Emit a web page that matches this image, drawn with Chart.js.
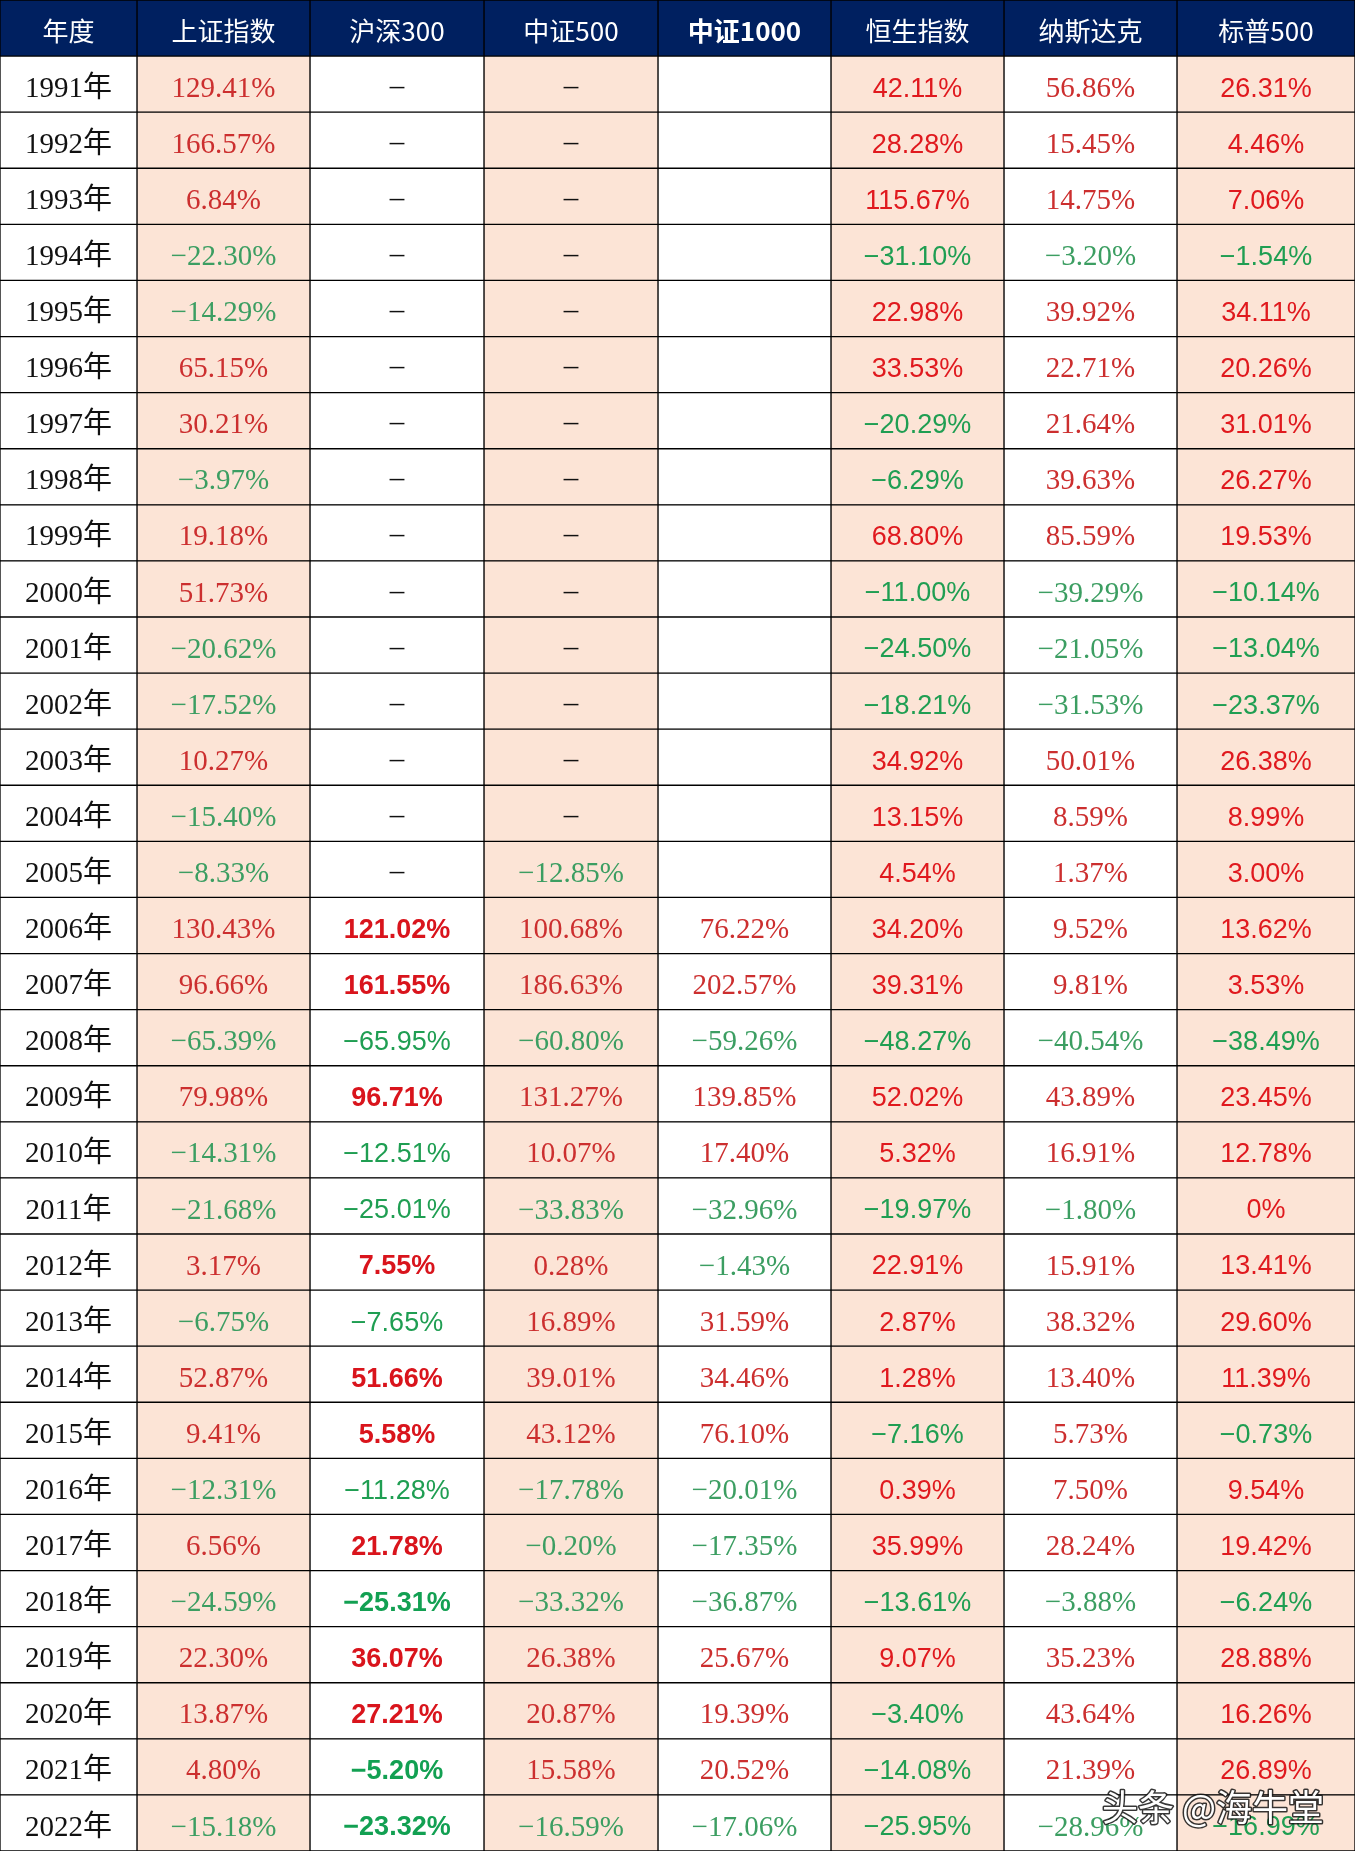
<!DOCTYPE html>
<html>
<head>
<meta charset="utf-8">
<title>历年指数涨跌幅</title>
<script src="https://cdn.jsdelivr.net/npm/chart.js@4.4.0/dist/chart.umd.min.js"></script>
<style>
  html, body { margin: 0; padding: 0; background: #fff; }
  #wrap { width: 1355px; height: 1851px; }
</style>
</head>
<body>
<div id="wrap"><canvas id="tableChart" width="1355" height="1851"></canvas></div>
<script>
// ---- data ----
const headers = ['年度', '上证指数', '沪深300', '中证500', '中证1000', '恒生指数', '纳斯达克', '标普500'];

const years = ['1991年', '1992年', '1993年', '1994年', '1995年', '1996年', '1997年', '1998年',
  '1999年', '2000年', '2001年', '2002年', '2003年', '2004年', '2005年', '2006年',
  '2007年', '2008年', '2009年', '2010年', '2011年', '2012年', '2013年', '2014年',
  '2015年', '2016年', '2017年', '2018年', '2019年', '2020年', '2021年', '2022年'];

const shIndex = [129.41, 166.57, 6.84, -22.30, -14.29, 65.15, 30.21, -3.97,
  19.18, 51.73, -20.62, -17.52, 10.27, -15.40, -8.33, 130.43,
  96.66, -65.39, 79.98, -14.31, -21.68, 3.17, -6.75, 52.87,
  9.41, -12.31, 6.56, -24.59, 22.30, 13.87, 4.80, -15.18];

const hs300 = [null, null, null, null, null, null, null, null,
  null, null, null, null, null, null, null, 121.02,
  161.55, -65.95, 96.71, -12.51, -25.01, 7.55, -7.65, 51.66,
  5.58, -11.28, 21.78, -25.31, 36.07, 27.21, -5.20, -23.32];

const csi500 = [null, null, null, null, null, null, null, null,
  null, null, null, null, null, null, -12.85, 100.68,
  186.63, -60.80, 131.27, 10.07, -33.83, 0.28, 16.89, 39.01,
  43.12, -17.78, -0.20, -33.32, 26.38, 20.87, 15.58, -16.59];

const csi1000 = [null, null, null, null, null, null, null, null,
  null, null, null, null, null, null, null, 76.22,
  202.57, -59.26, 139.85, 17.40, -32.96, -1.43, 31.59, 34.46,
  76.10, -20.01, -17.35, -36.87, 25.67, 19.39, 20.52, -17.06];

const hsi = [42.11, 28.28, 115.67, -31.10, 22.98, 33.53, -20.29, -6.29,
  68.80, -11.00, -24.50, -18.21, 34.92, 13.15, 4.54, 34.20,
  39.31, -48.27, 52.02, 5.32, -19.97, 22.91, 2.87, 1.28,
  -7.16, 0.39, 35.99, -13.61, 9.07, -3.40, -14.08, -25.95];

const nasdaq = [56.86, 15.45, 14.75, -3.20, 39.92, 22.71, 21.64, 39.63,
  85.59, -39.29, -21.05, -31.53, 50.01, 8.59, 1.37, 9.52,
  9.81, -40.54, 43.89, 16.91, -1.80, 15.91, 38.32, 13.40,
  5.73, 7.50, 28.24, -3.88, 35.23, 43.64, 21.39, -28.96];

const sp500 = [26.31, 4.46, 7.06, -1.54, 34.11, 20.26, 31.01, 26.27,
  19.53, -10.14, -13.04, -23.37, 26.38, 8.99, 3.00, 13.62,
  3.53, -38.49, 23.45, 12.78, 0, 13.41, 29.60, 11.39,
  -0.73, 9.54, 19.42, -6.24, 28.88, 16.26, 26.89, -16.99];

// years whose 沪深300 figure is set in bold
const hs300BoldYears = ['2006年', '2007年', '2009年', '2012年', '2014年', '2015年',
  '2017年', '2018年', '2019年', '2020年', '2021年', '2022年'];

// ---- layout / style ----
const colWidths = [137, 173, 174, 174, 173, 173, 173, 178];
const series = [null, shIndex, hs300, csi500, csi1000, hsi, nasdaq, sp500];
const emptyMark = [null, '–', '–', '–', '', '–', '–', '–'];
const colStyle = ['serif', 'serif', 'hs300', 'serif', 'serif', 'sans', 'serif', 'sans'];
const shadedCols = [1, 3, 5, 7];

const NAVY = '#002060';
const PEACH = '#fce4d6';
const FONTS = {
  serif: '29px "Liberation Serif", "Noto Sans CJK SC"',
  sans: '27px "Liberation Sans", "Noto Sans CJK SC"',
  bold: 'bold 27px "Liberation Sans", "Noto Sans CJK SC"'
};
const COLORS = {
  serif: { up: '#cc2f2f', down: '#3c9e62' },
  sans: { up: '#e0191e', down: '#1f9e52' },
  bold: { up: '#d9141c', down: '#12a052' }
};

const rowLabels = ['年度'].concat(years);

function cellFill(r, c) {
  if (r === 0) return NAVY;
  return shadedCols.includes(c) ? PEACH : '#ffffff';
}

function fmt(v) {
  if (v === 0) return '0%';
  return v.toFixed(2).replace('-', '−') + '%';
}

const cellText = {
  id: 'cellText',
  afterDatasetsDraw(chart) {
    const ctx = chart.ctx;
    ctx.save();
    ctx.textAlign = 'center';
    ctx.textBaseline = 'middle';
    chart.data.datasets.forEach((ds, c) => {
      chart.getDatasetMeta(c).data.forEach((el, r) => {
        const cx = (el.x + el.base) / 2;
        const cy = el.y + 5;
        if (r === 0) {
          ctx.font = (c === 4 ? 'bold ' : '') + '26px "Noto Sans CJK SC"';
          ctx.fillStyle = '#ffffff';
          ctx.fillText(headers[c], cx, el.y + 3);
          return;
        }
        if (c === 0) {
          ctx.font = FONTS.serif;
          ctx.fillStyle = '#111111';
          ctx.fillText(years[r - 1], cx, cy);
          return;
        }
        const v = series[c][r - 1];
        if (v === null) {
          ctx.font = FONTS.serif;
          ctx.fillStyle = '#111111';
          ctx.fillText(emptyMark[c], cx, cy - 2);
          return;
        }
        let style = colStyle[c];
        if (style === 'hs300') style = hs300BoldYears.includes(years[r - 1]) ? 'bold' : 'sans';
        ctx.font = FONTS[style];
        ctx.fillStyle = v >= 0 ? COLORS[style].up : COLORS[style].down;
        ctx.fillText(fmt(v), cx, cy);
      });
    });

    // watermark in the bottom-right corner
    const area = chart.chartArea;
    ctx.font = '36px "Noto Sans CJK SC"';
    ctx.lineJoin = 'round';
    ctx.lineWidth = 3;
    ctx.strokeStyle = 'rgba(20,20,20,0.85)';
    ctx.fillStyle = '#ffffff';
    ctx.strokeText('头条 @海牛堂', area.right - 142, area.bottom - 44);
    ctx.fillText('头条 @海牛堂', area.right - 142, area.bottom - 44);
    ctx.restore();
  }
};

new Chart(document.getElementById('tableChart'), {
  type: 'bar',
  data: {
    labels: rowLabels,
    datasets: headers.map((h, c) => ({
      label: h,
      data: rowLabels.map(() => colWidths[c]),
      backgroundColor: (context) => cellFill(context.dataIndex, c),
      borderColor: '#000000',
      borderWidth: 1,
      borderSkipped: false,
      barPercentage: 1,
      categoryPercentage: 1
    }))
  },
  options: {
    indexAxis: 'y',
    responsive: false,
    maintainAspectRatio: false,
    animation: false,
    layout: { padding: 0 },
    plugins: {
      legend: { display: false },
      tooltip: { enabled: false }
    },
    scales: {
      x: {
        stacked: true,
        display: false,
        min: 0,
        max: colWidths.reduce((a, b) => a + b, 0)
      },
      y: {
        stacked: true,
        display: false
      }
    }
  },
  plugins: [cellText]
});
</script>
</body>
</html>
